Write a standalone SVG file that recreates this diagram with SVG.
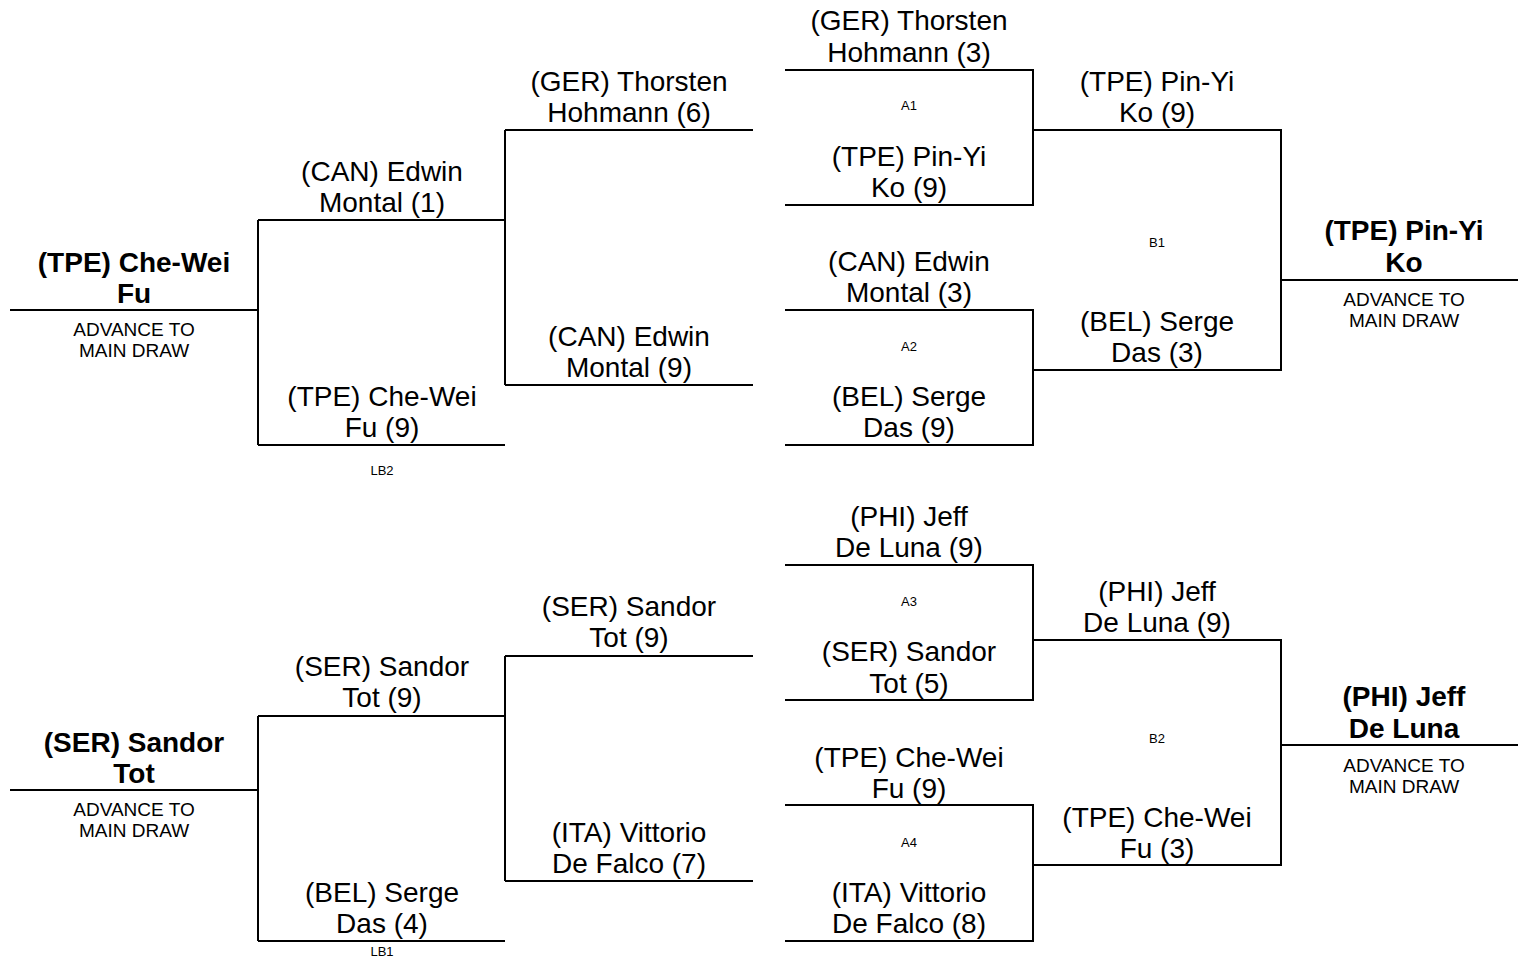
<svg xmlns="http://www.w3.org/2000/svg" width="1518" height="958" viewBox="0 0 1518 958">
<style>
.ln{stroke:#000;stroke-width:2;fill:none}
text{font-family:"Liberation Sans",Arial,sans-serif;fill:#000;text-anchor:middle}
.nm{font-size:28px}
.fn{font-size:28px;font-weight:bold}
.adv{font-size:19px}
.lb{font-size:13px}
</style>
<rect width="1518" height="958" fill="#fff"/>
<g id="connectors">
<path class="ln" d="M10 310H258M258 220V445M258 220H505M258 445H505M505 130V385M505 130H753M505 385H753"/>
<path class="ln" d="M785 70H1033V205H785M785 310H1033V445H785M1033 130H1281V370H1033M1281 280H1518"/>
<path class="ln" d="M10 790H258M258 716V941M258 716H505M258 941H505M505 656V881M505 656H753M505 881H753"/>
<path class="ln" d="M785 565H1033V700H785M785 805H1033V941H785M1033 640H1281V865H1033M1281 745H1518"/>
</g>
<g id="final-left-top"><text class="fn" x="134" y="272">(TPE) Che-Wei</text><text class="fn" x="134" y="303">Fu</text><text class="adv" x="134" y="336">ADVANCE TO</text><text class="adv" x="134" y="357">MAIN DRAW</text></g>
<g id="lb2-top"><text class="nm" x="382" y="181">(CAN) Edwin</text><text class="nm" x="382" y="212">Montal (1)</text></g>
<g id="lb2-bottom"><text class="nm" x="382" y="406">(TPE) Che-Wei</text><text class="nm" x="382" y="437">Fu (9)</text><text class="lb" x="382" y="475">LB2</text></g>
<g id="lr-top1"><text class="nm" x="629" y="91">(GER) Thorsten</text><text class="nm" x="629" y="122">Hohmann (6)</text></g>
<g id="lr-top2"><text class="nm" x="629" y="346">(CAN) Edwin</text><text class="nm" x="629" y="377">Montal (9)</text></g>
<g id="a1"><text class="nm" x="909" y="30">(GER) Thorsten</text><text class="nm" x="909" y="62">Hohmann (3)</text><text class="lb" x="909" y="110">A1</text><text class="nm" x="909" y="166">(TPE) Pin-Yi</text><text class="nm" x="909" y="197">Ko (9)</text></g>
<g id="a2"><text class="nm" x="909" y="271">(CAN) Edwin</text><text class="nm" x="909" y="302">Montal (3)</text><text class="lb" x="909" y="351">A2</text><text class="nm" x="909" y="406">(BEL) Serge</text><text class="nm" x="909" y="437">Das (9)</text></g>
<g id="b1"><text class="nm" x="1157" y="91">(TPE) Pin-Yi</text><text class="nm" x="1157" y="122">Ko (9)</text><text class="lb" x="1157" y="247">B1</text><text class="nm" x="1157" y="331">(BEL) Serge</text><text class="nm" x="1157" y="362">Das (3)</text></g>
<g id="final-right-top"><text class="fn" x="1404" y="240">(TPE) Pin-Yi</text><text class="fn" x="1404" y="272">Ko</text><text class="adv" x="1404" y="306">ADVANCE TO</text><text class="adv" x="1404" y="327">MAIN DRAW</text></g>
<g id="final-left-bottom"><text class="fn" x="134" y="752">(SER) Sandor</text><text class="fn" x="134" y="783">Tot</text><text class="adv" x="134" y="816">ADVANCE TO</text><text class="adv" x="134" y="837">MAIN DRAW</text></g>
<g id="lb1-top"><text class="nm" x="382" y="676">(SER) Sandor</text><text class="nm" x="382" y="707">Tot (9)</text></g>
<g id="lb1-bottom"><text class="nm" x="382" y="902">(BEL) Serge</text><text class="nm" x="382" y="933">Das (4)</text><text class="lb" x="382" y="956">LB1</text></g>
<g id="lr-bottom1"><text class="nm" x="629" y="616">(SER) Sandor</text><text class="nm" x="629" y="647">Tot (9)</text></g>
<g id="lr-bottom2"><text class="nm" x="629" y="842">(ITA) Vittorio</text><text class="nm" x="629" y="873">De Falco (7)</text></g>
<g id="a3"><text class="nm" x="909" y="526">(PHI) Jeff</text><text class="nm" x="909" y="557">De Luna (9)</text><text class="lb" x="909" y="606">A3</text><text class="nm" x="909" y="661">(SER) Sandor</text><text class="nm" x="909" y="693">Tot (5)</text></g>
<g id="a4"><text class="nm" x="909" y="767">(TPE) Che-Wei</text><text class="nm" x="909" y="798">Fu (9)</text><text class="lb" x="909" y="847">A4</text><text class="nm" x="909" y="902">(ITA) Vittorio</text><text class="nm" x="909" y="933">De Falco (8)</text></g>
<g id="b2"><text class="nm" x="1157" y="601">(PHI) Jeff</text><text class="nm" x="1157" y="632">De Luna (9)</text><text class="lb" x="1157" y="743">B2</text><text class="nm" x="1157" y="827">(TPE) Che-Wei</text><text class="nm" x="1157" y="858">Fu (3)</text></g>
<g id="final-right-bottom"><text class="fn" x="1404" y="706">(PHI) Jeff</text><text class="fn" x="1404" y="738">De Luna</text><text class="adv" x="1404" y="772">ADVANCE TO</text><text class="adv" x="1404" y="793">MAIN DRAW</text></g>
</svg>
